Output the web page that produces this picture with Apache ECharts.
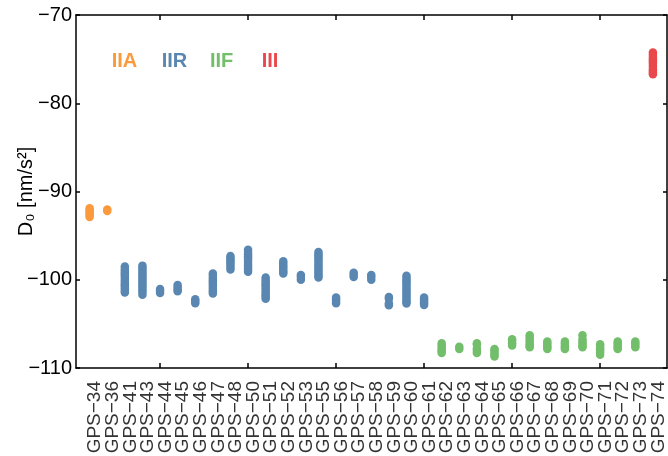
<!DOCTYPE html>
<html><head><meta charset="utf-8">
<script src="https://cdn.jsdelivr.net/npm/echarts@6/dist/echarts.min.js"></script>
<style>html,body{margin:0;padding:0;background:#fff}#c{width:668px;height:456px}</style>
</head><body><div id="c"></div>
<script>
const categories = ['GPS−34','GPS−36','GPS−41','GPS−43','GPS−44','GPS−45','GPS−46','GPS−47','GPS−48','GPS−50','GPS−51','GPS−52','GPS−53','GPS−55','GPS−56','GPS−57','GPS−58','GPS−59','GPS−60','GPS−61','GPS−62','GPS−63','GPS−64','GPS−65','GPS−66','GPS−67','GPS−68','GPS−69','GPS−70','GPS−71','GPS−72','GPS−73','GPS−74'];
const xTickCategories = ['GPS−44','GPS−50','GPS−56','GPS−61','GPS−66','GPS−71'];
const yTicks = [-110, -100, -90, -80, -70];
const groupNames = ['IIA','IIR','IIF','III'];
const groupColors = ['#fb9a3c','#5987b2','#72be6b','#e9484c'];

const iiaCats = ['GPS−34','GPS−36'];
const iiaVals = [
  [-91.9,-92.1,-92.3,-92.5,-92.7,-92.9],
  [-92.05,-92.2]
];
const iirCats = ['GPS−41','GPS−43','GPS−44','GPS−45','GPS−46','GPS−47','GPS−48','GPS−50','GPS−51','GPS−52','GPS−53','GPS−55','GPS−56','GPS−57','GPS−58','GPS−59','GPS−60','GPS−61'];
const iirVals = [
  [-98.5,-98.75,-99.0,-99.25,-99.5,-99.75,-100.0,-100.25,-100.5,-100.75,-101.0,-101.25,-101.45],
  [-98.4,-98.65,-98.9,-99.15,-99.4,-99.65,-99.9,-100.15,-100.4,-100.65,-100.9,-101.15,-101.4,-101.7],
  [-101.05,-101.25,-101.5],
  [-100.6,-100.85,-101.1,-101.3],
  [-102.2,-102.45,-102.67],
  [-99.3,-99.55,-99.8,-100.05,-100.3,-100.55,-100.8,-101.05,-101.3,-101.55],
  [-97.3,-97.55,-97.8,-98.05,-98.3,-98.55,-98.85],
  [-96.6,-96.85,-97.1,-97.35,-97.6,-97.85,-98.1,-98.35,-98.6,-98.85,-99.1],
  [-99.75,-100.0,-100.25,-100.5,-100.75,-101.0,-101.25,-101.5,-101.75,-101.95,-102.15],
  [-97.9,-98.15,-98.4,-98.65,-98.9,-99.1,-99.3],
  [-99.45,-99.7,-100.0],
  [-96.85,-97.1,-97.35,-97.6,-97.85,-98.1,-98.35,-98.6,-98.85,-99.1,-99.35,-99.55,-99.75],
  [-102.0,-102.2,-102.4,-102.65],
  [-99.2,-99.45,-99.7],
  [-99.45,-99.7,-100.0],
  [-101.95,-102.15,-102.7,-102.9],
  [-99.55,-99.8,-100.05,-100.3,-100.55,-100.8,-101.05,-101.3,-101.55,-101.8,-102.05,-102.3,-102.5,-102.7],
  [-102.0,-102.2,-102.45,-102.65,-102.85]
];
const iifCats = ['GPS−62','GPS−63','GPS−64','GPS−65','GPS−66','GPS−67','GPS−68','GPS−69','GPS−70','GPS−71','GPS−72','GPS−73'];
const iifVals = [
  [-107.2,-107.45,-107.7,-107.95,-108.1,-108.3],
  [-107.6,-107.85],
  [-107.2,-107.35,-107.8,-108.05,-108.3],
  [-107.85,-108.05,-108.3,-108.5,-108.7],
  [-106.75,-106.95,-107.2,-107.45],
  [-106.3,-106.5,-106.8,-107.05,-107.3,-107.5,-107.65],
  [-107.0,-107.2,-107.45,-107.65,-107.85],
  [-107.0,-107.2,-107.45,-107.65,-107.85],
  [-106.3,-106.75,-107.0,-107.25,-107.45,-107.65],
  [-107.3,-107.5,-107.75,-108.0,-108.25,-108.5],
  [-107.0,-107.2,-107.45,-107.65,-107.85],
  [-107.0,-107.2,-107.45,-107.65]
];
const iiiCats = ['GPS−74'];
const iiiVals = [
  [-74.25,-74.5,-74.75,-75.0,-75.25,-75.5,-75.75,-76.0,-76.25,-76.5,-76.7]
];

function toPoints(cats, vals) {
  const out = [];
  cats.forEach((c, i) => vals[i].forEach(v => out.push([categories.indexOf(c), v])));
  return out;
}
const groupData = [toPoints(iiaCats, iiaVals), toPoints(iirCats, iirVals), toPoints(iifCats, iifVals), toPoints(iiiCats, iiiVals)];

const FONT = 'Liberation Sans';
const xMin = -0.775, xMax = 32.8;
const tickIdx = xTickCategories.map(c => categories.indexOf(c));
const minus = v => String(v).replace('-', '−');

// plot frame
const G = { left: 76, right: 1, top: 15, bottom: 88 };
const plotW = 668 - G.left - G.right;
const step = plotW / (xMax - xMin);
const firstX = G.left + (0 - xMin) * step;
const labelShift = 5.5;
const G2left = firstX - step / 2 + labelShift;
const G2width = step * categories.length;

const axisLine = { show: true, onZero: false, lineStyle: { color: '#000', width: 1.5 } };
const chart = echarts.init(document.getElementById('c'), null, { renderer: 'canvas' });
chart.setOption({
  animation: false,
  backgroundColor: '#fff',
  grid: [
    { left: G.left, right: G.right, top: G.top, bottom: G.bottom, containLabel: false, outerBoundsMode: 'none' },
    { left: G2left, width: G2width, top: G.top, bottom: G.bottom, containLabel: false, outerBoundsMode: 'none' }
  ],
  xAxis: [
    {
      type: 'value', gridIndex: 0, min: xMin, max: xMax, position: 'bottom',
      axisLine: axisLine,
      axisTick: { show: true, inside: true, length: 5, customValues: tickIdx, lineStyle: { color: '#000', width: 1.5 } },
      axisLabel: { show: false },
      splitLine: { show: false }
    },
    {
      type: 'value', gridIndex: 0, min: xMin, max: xMax, position: 'top',
      axisLine: axisLine,
      axisTick: { show: true, inside: true, length: 5, customValues: tickIdx, lineStyle: { color: '#000', width: 1.5 } },
      axisLabel: { show: false },
      splitLine: { show: false }
    },
    {
      type: 'category', gridIndex: 1, data: categories, boundaryGap: true, position: 'bottom',
      axisLine: { show: false }, axisTick: { show: false }, splitLine: { show: false },
      axisLabel: { show: true, interval: 0, rotate: 90, margin: 13, fontFamily: FONT, fontSize: 19, color: '#333' }
    }
  ],
  yAxis: [
    {
      type: 'value', gridIndex: 0, min: yTicks[0], max: yTicks[yTicks.length - 1], interval: 10, position: 'left',
      axisLine: axisLine,
      axisTick: { show: true, inside: true, length: 4, lineStyle: { color: '#000', width: 1.5 } },
      axisLabel: { margin: 4, fontFamily: FONT, fontSize: 20, color: '#000', formatter: minus },
      splitLine: { show: false },
      name: 'D₀ [nm/s²]', nameLocation: 'middle', nameGap: 40, nameRotate: 90, nameMoveOverlap: false,
      nameTextStyle: { fontFamily: FONT, fontSize: 20, color: '#000' }
    },
    {
      type: 'value', gridIndex: 0, min: yTicks[0], max: yTicks[yTicks.length - 1], interval: 10, position: 'right',
      axisLine: axisLine,
      axisTick: { show: true, inside: true, length: 4, lineStyle: { color: '#000', width: 1.5 } },
      axisLabel: { show: false },
      splitLine: { show: false }
    },
    {
      type: 'value', gridIndex: 1, min: 0, max: 1, show: false
    }
  ],
  graphic: groupNames.map((n, i) => ({
    type: 'text',
    x: [111.7, 161.7, 210, 261.7][i], y: 61,
    style: { text: n, fill: groupColors[i], font: 'bold 20px "Liberation Sans"', verticalAlign: 'middle', textVerticalAlign: 'middle' }
  })),
  series: groupNames.map((n, i) => ({
    name: n, type: 'scatter', xAxisIndex: 0, yAxisIndex: 0,
    symbol: 'circle', symbolSize: 8.5,
    itemStyle: { color: groupColors[i], opacity: 1 },
    data: groupData[i]
  }))
});
</script></body></html>
